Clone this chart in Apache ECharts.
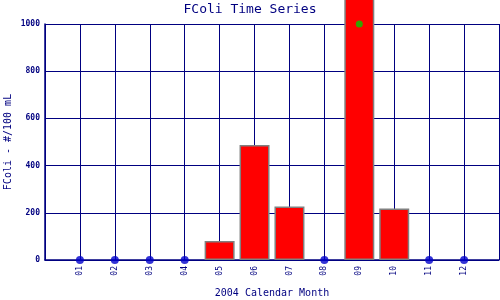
<!DOCTYPE html>
<html><head><meta charset="utf-8">
<script src="https://cdn.jsdelivr.net/npm/echarts@6/dist/echarts.min.js"></script>
<style>html,body{margin:0;padding:0;background:#fff}#c{width:500px;height:300px}</style>
</head><body><div id="c"></div>
<script>
const months = [1,2,3,4,5,6,7,8,9,10,11,12];
const monthLabels = ['01','02','03','04','05','06','07','08','09','10','11','12'];
const fcoli = [0,0,0,0,80,487,227,0,1150,218,0,0];
const markerMonths = [9];
const markerValues = [1000];
const yTicks = [0,200,400,600,800,1000];

const barData = [], zeroData = [];
months.forEach((m,i)=>{ if (fcoli[i] > 0) barData.push([m, fcoli[i]]); else zeroData.push([m, 0]); });
const markerData = markerMonths.map((m,i)=>[m, markerValues[i]]);

const navy = '#000080';
const font = 'DejaVu Sans Mono';
const chart = echarts.init(document.getElementById('c'), null, {renderer:'canvas'});
chart.setOption({
  animation:false,
  title:{text:'FColi Time Series', left:'center', top:-2, textStyle:{color:navy, fontFamily:font, fontSize:13, fontWeight:'normal'}},
  grid:{left:45, right:1, top:24, bottom:40, containLabel:false, outerBoundsMode:'none'},
  xAxis:{type:'value', min:0, max:13, interval:1,
    name:'2004 Calendar Month', nameLocation:'middle', nameGap:28, nameMoveOverlap:false,
    nameTextStyle:{color:navy, fontFamily:font, fontSize:10},
    axisLine:{show:true, lineStyle:{color:navy, width:1.5}},
    axisTick:{show:false},
    axisLabel:{rotate:90, color:navy, fontFamily:font, fontSize:8, margin:6, showMinLabel:false, showMaxLabel:false,
      formatter:v=>{const i=months.indexOf(v); return i>=0?monthLabels[i]:'';}},
    splitLine:{show:true, showMinLine:true, showMaxLine:true, lineStyle:{color:navy, width:1}}
  },
  yAxis:{type:'value', min:0, max:1000, interval:200,
    name:'FColi - #/100 mL', nameLocation:'middle', nameGap:32, nameMoveOverlap:false,
    nameTextStyle:{color:navy, fontFamily:font, fontSize:10},
    axisLine:{show:true, lineStyle:{color:navy, width:1.5}},
    axisTick:{show:false},
    axisLabel:{color:navy, fontFamily:font, fontSize:8, fontWeight:'bold', margin:5,
      formatter:v=>yTicks.includes(v)?String(v):''},
    splitLine:{show:true, lineStyle:{color:navy, width:1}}
  },
  series:[
    {type:'bar', data:barData, barWidth:30, clip:false, z:3,
      itemStyle:{color:'#ff0000', borderColor:'#808080', borderWidth:1.5}},
    {type:'scatter', data:zeroData, symbol:'circle', symbolSize:8, clip:false, z:4,
      itemStyle:{color:'#0000cc'}},
    {type:'scatter', data:markerData, symbol:'circle', symbolSize:7, clip:false, z:5,
      itemStyle:{color:'#00cc00'}}
  ]
});
</script></body></html>
